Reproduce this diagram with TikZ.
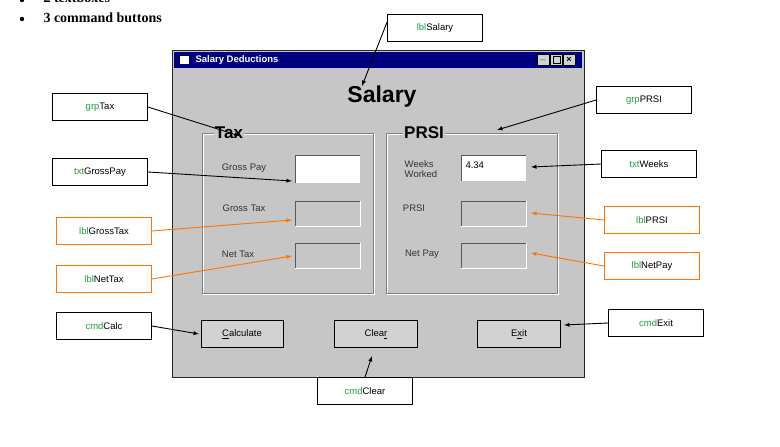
\documentclass[tikz,border=0pt]{standalone}
\usepackage{fontspec}
\setmainfont{Liberation Sans}
\newfontfamily\tnr{Liberation Serif}
\begin{document}
\begin{tikzpicture}[x=1pt,y=-1pt,
 call/.style={draw=black,line width=0.8pt,fill=white,minimum width=95pt,minimum height=27pt,font=\fontsize{9.5}{10}\selectfont,inner sep=0pt},
 ocall/.style={call,draw=orange!90!red},
 arr/.style={-latex,line width=0.9pt},
 oarr/.style={arr,draw=orange!90!red},
 sunk/.style={draw=gray!70!black,line width=0.8pt},
 btn/.style={draw=black,fill=gray!35,line width=0.8pt,font=\fontsize{9.5}{10}\selectfont},
 lab/.style={font=\fontsize{9.5}{10}\selectfont,text=black!80,align=left},
 frame/.style={draw=white,line width=0.8pt}]
\useasboundingbox (0,0) rectangle (780,447);
\fill[white] (0,0) rectangle (780,447);
\definecolor{grn}{RGB}{30,160,60}
\newcommand{\pf}[2]{\textcolor{grn}{#1}#2}
% header
\node[font=\tnr\bfseries\fontsize{14}{15}\selectfont,anchor=west] (h1) at (40,-2) {2 textboxes};
\node[font=\tnr\bfseries\fontsize{14}{15}\selectfont,anchor=west] (h2) at (40,18) {3 command buttons};
\fill (22,0) circle (2.2); \fill (22,19) circle (2.2);
% window
\fill[gray!45] (172,50) rectangle (584,377);
\draw[gray!30!black,line width=1pt] (172,50) rectangle (584,377);
\fill[blue!50!black] (174,52) rectangle (582,68);
\node[anchor=west,text=white,font=\bfseries\fontsize{9.5}{10}\selectfont] (ttl) at (192,60) {Salary Deductions};
\fill[white] (180,56) rectangle (189,64);
\foreach \i/\s in {0/\_,1/{},2/\texttimes}{
 \node[draw=black,fill=gray!35,minimum width=12pt,minimum height=11pt,inner sep=0pt,font=\bfseries\fontsize{9}{9}\selectfont] (wb\i) at (543+\i*13,60) {\s};}
\draw[line width=1pt] (553,56) rectangle (560,63);
\node[font=\bfseries\fontsize{23}{24}\selectfont] (sal) at (382,97) {Salary};
% frames
\draw[frame] (203,134) rectangle (374,294); \draw[gray] (202,133) rectangle (373,293);
\draw[frame] (387,134) rectangle (558,294); \draw[gray] (386,133) rectangle (557,293);
\node[fill=gray!45,inner sep=1pt,font=\bfseries\fontsize{17}{18}\selectfont] (tax) at (229,133) {Tax};
\node[fill=gray!45,inner sep=1pt,font=\bfseries\fontsize{17}{18}\selectfont] (prsi) at (424,133) {PRSI};
% text boxes
\fill[white] (295,155) rectangle (360,183); \draw[sunk] (360,155) -- (295,155) -- (295,183);
\draw[sunk] (295,226) -- (295,201) -- (360,201); \draw[white] (360,201) -- (360,226) -- (295,226);
\draw[sunk] (295,268) -- (295,243) -- (360,243); \draw[white] (360,243) -- (360,268) -- (295,268);
\fill[white] (461,155) rectangle (526,181); \draw[sunk] (526,155) -- (461,155) -- (461,181);
\draw[sunk] (461,226) -- (461,201) -- (526,201); \draw[white] (526,201) -- (526,226) -- (461,226);
\draw[sunk] (461,268) -- (461,243) -- (526,243); \draw[white] (526,243) -- (526,268) -- (461,268);
\node[anchor=west,font=\fontsize{9.5}{10}\selectfont] (wv) at (462,165) {4.34};
\node[lab] (l1) at (244,168) {Gross Pay};
\node[lab] (l2) at (244,208) {Gross Tax};
\node[lab] (l3) at (238,254) {Net Tax};
\node[lab,align=left,font=\fontsize{9.5}{10}\selectfont] (l4) at (421,169) {Weeks\\Worked};
\node[lab] (l5) at (414,208) {PRSI};
\node[lab] (l6) at (422,254) {Net Pay};
% buttons
\node[btn,minimum width=82pt,minimum height=27pt] (bc) at (242,334) {\underline{C}alculate};
\node[btn,minimum width=83pt,minimum height=27pt] (bl) at (376,334) {Clea\underline{r}};
\node[btn,minimum width=83pt,minimum height=27pt] (be) at (519,334) {E\underline{x}it};
% callouts
\node[call] (cSal) at (435,28) {\pf{lbl}{Salary}};
\node[call] (cgT) at (100,107) {\pf{grp}{Tax}};
\node[call] (cgP) at (644,100) {\pf{grp}{PRSI}};
\node[call] (ctG) at (100,172) {\pf{txt}{GrossPay}};
\node[call] (ctW) at (649,164) {\pf{txt}{Weeks}};
\node[ocall] (clG) at (104,231) {\pf{lbl}{GrossTax}};
\node[ocall] (clP) at (652,220) {\pf{lbl}{PRSI}};
\node[ocall] (clN) at (104,279) {\pf{lbl}{NetTax}};
\node[ocall] (clNP) at (652,266) {\pf{lbl}{NetPay}};
\node[call] (ccC) at (104,326) {\pf{cmd}{Calc}};
\node[call] (ccE) at (656,323) {\pf{cmd}{Exit}};
\node[call] (ccL) at (365,391) {\pf{cmd}{Clear}};
% arrow targets
\coordinate (tSal) at (362,86);
\coordinate (tgT) at (240,136);
\coordinate (tgP) at (497,130);
\coordinate (ttG) at (292,181);
\coordinate (ttW) at (531,167);
\coordinate (tlG) at (292,220);
\coordinate (tlP) at (531,213);
\coordinate (tlN) at (292,256);
\coordinate (tlNP) at (531,253);
\coordinate (tcC) at (199,334);
\coordinate (tcE) at (564,325);
\coordinate (tcL) at (372,356);
\draw[arr] (cSal.west) ++(0,-6) -- (tSal);
\draw[arr] (cgT.east) -- (tgT);
\draw[arr] (cgP.west) -- (tgP);
\draw[arr] (ctG.east) -- (ttG);
\draw[arr] (ctW.west) -- (ttW);
\draw[oarr] (clG.east) -- (tlG);
\draw[oarr] (clP.west) -- (tlP);
\draw[oarr] (clN.east) -- (tlN);
\draw[oarr] (clNP.west) -- (tlNP);
\draw[arr] (ccC.east) -- (tcC);
\draw[arr] (ccE.west) -- (tcE);
\draw[arr] (ccL.north) -- (tcL);
\end{tikzpicture}
\end{document}
